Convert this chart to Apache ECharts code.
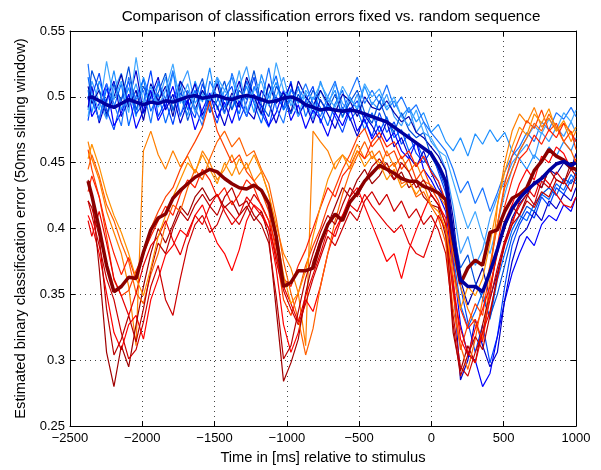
<!DOCTYPE html>
<html>
<head>
<meta charset="utf-8">
<script src="https://cdn.jsdelivr.net/npm/echarts@6/dist/echarts.min.js"></script>
<style>
  html, body { margin: 0; padding: 0; background: #fff; }
  #chart { width: 601px; height: 470px; }
</style>
</head>
<body>
<div id="chart"></div>
<script>
var times = [-2375,-2349,-2298,-2247,-2196,-2145,-2094,-2043,-1992,-1941,
  -1890,-1839,-1788,-1737,-1686,-1635,-1584,-1533,-1482,-1431,
  -1380,-1329,-1278,-1227,-1176,-1125,-1074,-1023,-972,-921,
  -870,-819,-768,-717,-666,-615,-564,-513,-462,-411,
  -360,-309,-258,-207,-156,-105,-54,-3,48,99,
  150,201,252,303,354,405,456,507,558,609,
  660,711,762,813,864,915,966,1000];

var xTicks = [-2500, 1000, 500];      // min, max, step
var yTicks = [0.25, 0.55, 0.05];

// error values, in thousandths
// fixed sequence (blue): thin = single runs, mean = thick
var blueMean = [499,500,497,494,492,495,498,496,494,496,
  495,497,496,498,500,501,499,500,501,499,
  498,500,501,500,498,496,497,499,500,498,
  494,492,490,491,490,489,490,489,487,485,
  483,481,477,473,469,465,461,457,448,436,
  394,361,356,356,352,367,384,403,415,423,
  429,434,438,444,449,451,448,450];

var blue1 = [505,488,512,495,520,490,507,485,515,498, 510,492,518,500,486,512,496,522,490,505,
  515,494,508,488,517,499,511,490,506,495, 503,487,512,496,505,484,500,490,508,494,
  502,490,497,485,492,481,488,473,479,466, 459,469,455,472,464,475,466,473,459,453,
  445,456,450,462,455,466,459,469];
var blue2 = [490,512,496,483,505,518,494,510,487,503, 496,515,489,507,520,495,504,488,512,499,
  491,508,523,497,486,509,500,515,493,506, 498,483,505,492,510,495,488,502,480,496,
  490,502,485,478,492,473,481,466,459,445, 417,381,394,372,384,408,424,436,450,457,
  464,453,473,466,477,470,481,473];
var blue3 = [515,497,483,506,492,510,478,500,513,489, 502,480,498,512,490,505,483,497,515,492,
  500,487,512,495,480,502,516,490,498,508, 485,500,492,478,495,505,482,490,475,488,
  473,485,469,475,459,466,453,445,436,419, 380,342,325,337,352,331,361,381,399,410,
  406,419,426,422,434,429,441,436];
var blue4 = [482,500,518,490,475,498,512,487,495,520, 485,497,479,503,495,484,510,493,480,500,
  508,482,496,515,488,477,500,492,512,485, 497,508,480,495,485,473,490,497,482,470,
  488,473,481,464,472,457,450,459,443,427, 394,356,329,306,327,298,318,356,387,403,
  413,408,424,417,431,426,437,434];
var blue5 = [500,485,495,510,478,488,502,476,490,505, 482,493,508,486,498,475,490,503,484,496,
  480,497,485,502,493,478,488,505,482,494, 476,490,483,470,488,478,492,474,483,468,
  478,466,473,459,453,466,445,437,426,413, 375,327,304,300,280,290,318,345,366,381,
  394,387,403,410,406,418,413,424];
var blue6 = [492,508,480,498,512,485,497,520,488,500, 515,490,502,480,496,510,486,500,493,478,
  497,512,490,483,505,495,480,498,510,487, 495,480,498,487,476,492,484,470,486,478,
  468,481,462,469,455,447,459,443,431,422, 360,285,300,331,311,295,306,346,375,394,
  400,413,406,421,415,426,421,431];
var blue7 = [508,495,505,487,500,517,492,505,482,510, 497,508,485,512,502,490,505,495,510,488,
  503,492,515,500,487,510,495,503,488,512, 500,493,505,495,488,502,497,485,500,492,
  490,497,488,481,485,473,469,462,455,444, 408,361,342,356,370,347,366,389,408,419,
  426,436,431,445,441,450,445,457];
var blue8 = [525,500,482,510,495,478,515,498,505,480, 512,498,520,485,505,492,478,512,500,487,
  518,500,485,508,496,522,492,480,505,497, 510,495,485,500,512,490,502,515,495,505,
  495,509,492,500,488,494,481,473,466,459, 445,427,436,419,431,413,427,443,455,462,
  473,466,481,475,488,483,492,485];
var blue9 = [498,520,505,485,510,497,523,490,508,495, 503,518,490,507,482,500,514,488,497,512,
  490,505,498,520,494,485,508,500,487,502, 492,505,497,490,502,485,496,505,488,480,
  497,483,473,488,475,469,473,455,445,431, 400,370,380,359,347,333,350,372,394,406,
  417,413,426,431,425,438,434,443];
var blue10 = [485,503,490,527,498,512,488,530,495,508, 492,505,525,495,510,488,502,497,515,505,
  497,520,488,505,512,493,526,505,498,485, 505,498,510,500,492,508,498,492,510,500,
  506,492,500,485,478,490,473,469,459,455, 436,417,400,413,394,381,403,426,445,459,
  469,478,472,483,475,488,481,490];

// random sequence (red/orange)
var redMean = [436,425,400,372,352,356,363,362,382,399,
  408,411,423,429,434,439,442,445,443,438,
  434,431,430,433,429,419,394,356,359,368,
  368,370,389,403,411,406,420,427,436,442,
  448,445,442,438,436,436,432,430,427,422,
  391,358,370,376,372,397,399,413,423,426,
  431,444,451,460,455,452,446,445];

var red1 = [466,453,437,413,397,381,356,311,459,474, 456,445,459,447,455,442,459,450,437,445,
  456,441,450,436,443,426,403,381,370,351, 311,474,466,459,445,456,450,464,453,459,
  445,459,447,455,443,450,436,433,426,417, 381,356,339,327,316,362,417,450,474,487,
  480,492,477,484,474,480,466,474];
var red2 = [460,445,424,394,361,349,353,368,380,400, 413,424,431,445,456,466,477,497,474,462,
  450,456,443,436,428,413,381,346,334,351, 372,387,400,417,431,445,456,469,476,462,
  469,455,459,445,453,437,445,431,421,403, 351,308,327,343,334,370,403,434,455,469,
  482,476,490,474,480,466,474,460];
var red3 = [410,403,381,351,321,308,327,334,316,346, 362,380,387,399,394,410,418,403,389,381,
  368,384,406,418,413,400,370,327,306,321, 346,337,356,381,399,410,424,431,417,403,
  389,375,381,362,384,399,413,426,418,408, 361,316,304,324,339,356,381,406,418,434,
  445,437,455,450,462,457,445,453];
var red4 = [437,426,370,306,280,311,295,327,356,381, 400,389,403,417,410,424,431,421,426,416,
  421,410,417,406,413,394,339,284,298,316, 351,375,391,403,417,431,424,437,445,434,
  440,450,437,443,431,436,424,418,416,394, 321,292,311,298,327,351,384,400,417,410,
  424,436,431,445,437,434,450,443];
var red5 = [421,410,387,362,346,321,301,308,329,356, 372,346,334,362,387,403,410,397,403,417,
  410,403,415,426,418,406,375,353,339,327, 343,362,378,394,387,400,413,406,421,428,
  418,426,413,421,408,415,403,410,399,381, 334,295,288,306,321,346,370,391,406,417,
  426,418,436,431,443,436,428,440];
var red6 = [445,456,440,418,406,389,375,351,343,365, 381,403,418,413,431,445,437,453,466,474,
  462,469,455,459,445,434,408,375,351,331, 304,324,356,381,406,426,443,455,466,453,
  459,445,450,434,437,424,428,417,408,389, 339,311,293,316,346,372,403,431,445,459,
  469,480,474,487,477,466,459,450];
var red7 = [428,440,424,400,381,365,378,361,381,394, 406,417,410,426,437,431,445,437,424,431,
  418,426,437,431,417,406,387,362,356,372, 384,400,416,431,424,440,447,459,453,466,
  473,462,466,453,459,447,455,443,436,421, 372,339,324,331,314,351,387,417,437,453,
  459,471,464,475,469,480,473,466];
var red8 = [406,394,413,389,362,349,334,351,372,387, 394,406,391,380,397,410,403,417,426,413,
  403,410,424,417,410,400,380,356,343,329, 349,365,381,399,394,410,418,413,426,417,
  410,403,397,403,389,381,378,394,410,399, 353,324,306,298,321,337,362,389,403,421,
  431,424,440,434,426,418,416,424];
var red9 = [421,416,394,339,304,316,334,314,339,368, 389,381,400,413,406,418,426,417,410,424,
  431,417,421,410,403,389,349,301,311,337, 362,381,397,410,403,418,431,424,436,447,
  453,445,437,450,443,431,437,426,418,403, 327,288,304,318,308,334,365,387,403,410,
  421,416,428,424,437,434,445,440];
var red10 = [453,464,447,426,410,397,381,362,349,370, 394,410,424,437,450,443,456,445,434,450,
  440,453,445,456,443,426,397,365,343,351, 368,394,417,437,450,456,445,459,447,455,
  450,437,445,431,436,426,434,418,413,400, 365,339,356,349,362,389,418,443,462,477,
  471,487,480,491,474,482,471,477];

var blueThin = [
  [blue1, '#1e90ff'], [blue2, '#3a9cff'], [blue3, '#0066ff'], [blue4, '#0044ff'],
  [blue5, '#0000ff'], [blue6, '#0000cc'], [blue7, '#0000aa'], [blue8, '#1a75ff'],
  [blue9, '#0050dd'], [blue10, '#40a8ff']
];
var redThin = [
  [red1, '#ff7f00'], [red2, '#ff4000'], [red3, '#ff0000'], [red4, '#a00000'],
  [red5, '#cc0000'], [red6, '#ff6000'], [red7, '#ff2000'], [red8, '#e60000'],
  [red9, '#b80000'], [red10, '#ff9000']
];

function toPoints(vals) {
  return times.map(function (t, k) { return [t, vals[k] / 1000]; });
}

function lineSeries(vals, color, width) {
  return {
    type: 'line',
    data: toPoints(vals),
    showSymbol: false,
    silent: true,
    lineStyle: { color: color, width: width },
    itemStyle: { color: color }
  };
}

var series = [];
blueThin.forEach(function (b) { series.push(lineSeries(b[0], b[1], 1.2)); });
redThin.forEach(function (r) { series.push(lineSeries(r[0], r[1], 1.2)); });
series.push(lineSeries(redMean, '#8b0000', 3.5));
series.push(lineSeries(blueMean, '#0000a0', 3.5));

var FONT = 'Liberation Sans';
function minus(v) { return String(v).replace('-', '\u2212'); }

var chart = echarts.init(document.getElementById('chart'), null, { renderer: 'canvas' });
var option = {
  animation: false,
  backgroundColor: '#fff',
  title: {
    text: 'Comparison of classification errors fixed vs. random sequence',
    left: 331, top: 9, padding: 0, textAlign: 'center',
    textStyle: { fontFamily: FONT, fontSize: 15.2, fontWeight: 'normal', color: '#000' }
  },
  grid: { left: 70, right: 25, top: 31, bottom: 39 },
  xAxis: [{
    type: 'value', min: xTicks[0], max: xTicks[1], interval: xTicks[2],
    name: 'Time in [ms] relative to stimulus', nameLocation: 'middle', nameGap: 22,
    nameTextStyle: { fontFamily: FONT, fontSize: 14.7, color: '#000' },
    axisLine: { onZero: false, lineStyle: { color: '#000', width: 1 } },
    axisTick: { inside: true, length: 5, lineStyle: { color: '#000' } },
    axisLabel: { fontFamily: FONT, fontSize: 13, color: '#000', margin: 6, formatter: minus },
    splitLine: { show: true, lineStyle: { color: '#444', type: [1, 4], width: 1 } }
  }, {
    type: 'value', position: 'top', min: xTicks[0], max: xTicks[1], interval: xTicks[2],
    axisLine: { show: true, onZero: false, lineStyle: { color: '#000', width: 1 } },
    axisTick: { inside: true, length: 5, lineStyle: { color: '#000' } },
    axisLabel: { show: false }, splitLine: { show: false }
  }],
  yAxis: [{
    type: 'value', min: yTicks[0], max: yTicks[1], interval: yTicks[2],
    name: 'Estimated binary classification error (50ms sliding window)',
    nameLocation: 'middle', nameGap: 42,
    nameTextStyle: { fontFamily: FONT, fontSize: 14.7, color: '#000' },
    axisLine: { show: true, onZero: false, lineStyle: { color: '#000', width: 1 } },
    axisTick: { show: true, inside: true, length: 5, lineStyle: { color: '#000' } },
    axisLabel: { fontFamily: FONT, fontSize: 13, color: '#000', margin: 5 },
    splitLine: { show: true, lineStyle: { color: '#444', type: [1, 4], width: 1 } }
  }, {
    type: 'value', position: 'right', min: yTicks[0], max: yTicks[1], interval: yTicks[2],
    axisLine: { show: true, onZero: false, lineStyle: { color: '#000', width: 1 } },
    axisTick: { show: true, inside: true, length: 5, lineStyle: { color: '#000' } },
    axisLabel: { show: false }, splitLine: { show: false }
  }],
  series: series
};
chart.setOption(option);
</script>
</body>
</html>
